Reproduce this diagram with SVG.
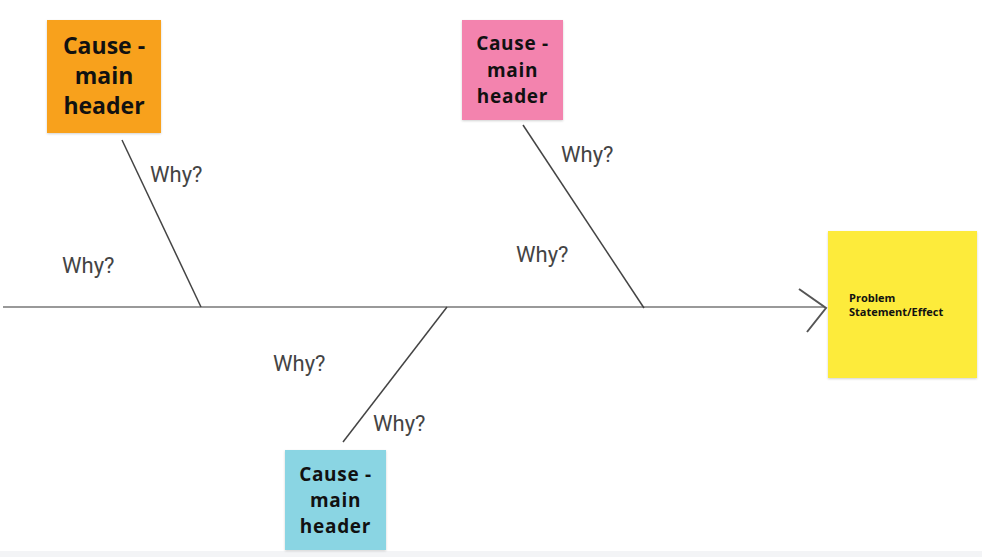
<svg xmlns="http://www.w3.org/2000/svg" width="982" height="557" viewBox="0 0 982 557">
<defs>
<filter id="sh" x="-10%" y="-10%" width="120%" height="120%">
<feDropShadow dx="0" dy="1" stdDeviation="0.8" flood-color="#000" flood-opacity="0.18"/>
</filter>
</defs>
<style>
.hd{font-family:"Open Sans","Noto Sans",sans-serif;font-weight:700;fill:#111;text-anchor:middle}
.sm{font-size:19px;letter-spacing:0.7px}
.why{font-family:Roboto,"Liberation Sans",sans-serif;font-size:22px;fill:#444}
.br{stroke:#444;stroke-width:1.5;fill:none}
.sp{stroke:#999;stroke-width:2;fill:none}
</style>
<rect x="0" y="0" width="982" height="557" fill="#ffffff"/>
<rect x="0" y="551" width="982" height="6" fill="#f3f4f6"/>
<g id="connectors">
<line class="sp" x1="3" y1="307" x2="825" y2="307"/>
<polyline points="799,289 826,308 807,332" fill="none" stroke="#555" stroke-width="2"/>
<line class="br" x1="122" y1="140" x2="201" y2="307"/>
<line class="br" x1="523" y1="125" x2="644" y2="308"/>
<line class="br" x1="343" y1="442" x2="447" y2="307"/>
</g>
<g id="labels">
<text class="why" x="150" y="182">Why?</text>
<text class="why" x="62" y="273">Why?</text>
<text class="why" x="561" y="162">Why?</text>
<text class="why" x="516" y="262">Why?</text>
<text class="why" x="273" y="371">Why?</text>
<text class="why" x="373" y="431">Why?</text>
</g>
<g id="cause-orange">
<rect x="47" y="20" width="114" height="113" fill="#f8a11f" filter="url(#sh)"/>
<text class="hd" font-size="23" x="104" y="54">Cause -</text>
<text class="hd" font-size="23" x="104" y="84">main</text>
<text class="hd" font-size="23" x="104" y="114">header</text>
</g>
<g id="cause-pink">
<rect x="462" y="20" width="101" height="100" fill="#f383ae" filter="url(#sh)"/>
<text class="hd sm" x="512.5" y="50">Cause -</text>
<text class="hd sm" x="512.5" y="77">main</text>
<text class="hd sm" x="512.5" y="103">header</text>
</g>
<g id="cause-cyan">
<rect x="285" y="450" width="101" height="100" fill="#8ad5e3" filter="url(#sh)"/>
<text class="hd sm" x="335.5" y="481">Cause -</text>
<text class="hd sm" x="335.5" y="507">main</text>
<text class="hd sm" x="335.5" y="533">header</text>
</g>
<g id="effect">
<rect x="828" y="231" width="149" height="147" fill="#fdeb3b" filter="url(#sh)"/>
<text font-family="'Open Sans','Noto Sans',sans-serif" font-weight="700" font-size="11" fill="#111" x="849" y="302">Problem</text>
<text font-family="'Open Sans','Noto Sans',sans-serif" font-weight="700" font-size="11" fill="#111" x="849" y="316">Statement/Effect</text>
</g>
</svg>
